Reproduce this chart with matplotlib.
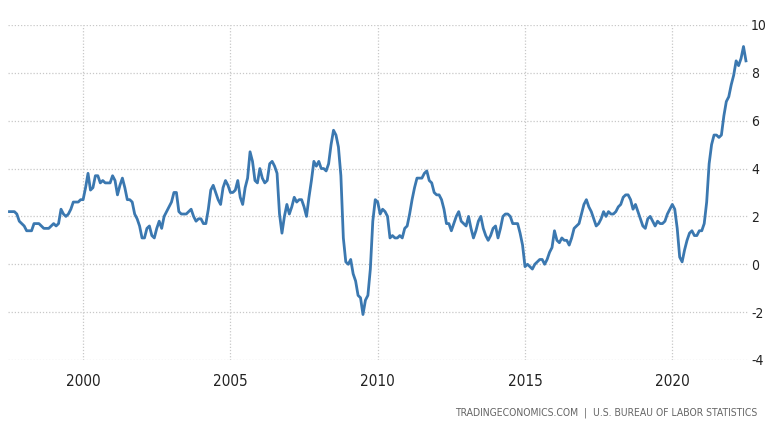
import matplotlib
matplotlib.use("Agg")
import matplotlib.pyplot as plt
from matplotlib import font_manager
import numpy as np

start_year = 1997
start_month = 7
cpi_yoy = [
    2.2, 2.2, 2.2, 2.1, 1.8, 1.7,
    1.6, 1.4, 1.4, 1.4, 1.7, 1.7, 1.7, 1.6, 1.5, 1.5, 1.5, 1.6,
    1.7, 1.6, 1.7, 2.3, 2.1, 2.0, 2.1, 2.3, 2.6, 2.6, 2.6, 2.7,
    2.7, 3.2, 3.8, 3.1, 3.2, 3.7, 3.7, 3.4, 3.5, 3.4, 3.4, 3.4,
    3.7, 3.5, 2.9, 3.3, 3.6, 3.2, 2.7, 2.7, 2.6, 2.1, 1.9, 1.6,
    1.1, 1.1, 1.5, 1.6, 1.2, 1.1, 1.5, 1.8, 1.5, 2.0, 2.2, 2.4,
    2.6, 3.0, 3.0, 2.2, 2.1, 2.1, 2.1, 2.2, 2.3, 2.0, 1.8, 1.9,
    1.9, 1.7, 1.7, 2.3, 3.1, 3.3, 3.0, 2.7, 2.5, 3.2, 3.5, 3.3,
    3.0, 3.0, 3.1, 3.5, 2.8, 2.5, 3.2, 3.6, 4.7, 4.3, 3.5, 3.4,
    4.0, 3.6, 3.4, 3.5, 4.2, 4.3, 4.1, 3.8, 2.1, 1.3, 2.0, 2.5,
    2.1, 2.4, 2.8, 2.6, 2.7, 2.7, 2.4, 2.0, 2.8, 3.5, 4.3, 4.1,
    4.3, 4.0, 4.0, 3.9, 4.2, 5.0, 5.6, 5.4, 4.9, 3.7, 1.1, 0.1,
    0.0, 0.2, -0.4, -0.7, -1.3, -1.4, -2.1, -1.5, -1.3, -0.2, 1.8, 2.7,
    2.6, 2.1, 2.3, 2.2, 2.0, 1.1, 1.2, 1.1, 1.1, 1.2, 1.1, 1.5,
    1.6, 2.1, 2.7, 3.2, 3.6, 3.6, 3.6, 3.8, 3.9, 3.5, 3.4, 3.0,
    2.9, 2.9, 2.7, 2.3, 1.7, 1.7, 1.4, 1.7, 2.0, 2.2, 1.8, 1.7,
    1.6, 2.0, 1.5, 1.1, 1.4, 1.8, 2.0, 1.5, 1.2, 1.0, 1.2, 1.5,
    1.6, 1.1, 1.5, 2.0, 2.1, 2.1, 2.0, 1.7, 1.7, 1.7, 1.3, 0.8,
    -0.1, 0.0, -0.1, -0.2, 0.0, 0.1, 0.2, 0.2, 0.0, 0.2, 0.5, 0.7,
    1.4, 1.0, 0.9, 1.1, 1.0, 1.0, 0.8, 1.1, 1.5, 1.6, 1.7, 2.1,
    2.5, 2.7, 2.4, 2.2, 1.9, 1.6, 1.7, 1.9, 2.2, 2.0, 2.2, 2.1,
    2.1, 2.2, 2.4, 2.5, 2.8, 2.9, 2.9, 2.7, 2.3, 2.5, 2.2, 1.9,
    1.6, 1.5, 1.9, 2.0, 1.8, 1.6, 1.8, 1.7, 1.7, 1.8, 2.1, 2.3,
    2.5, 2.3, 1.5, 0.3, 0.1, 0.6, 1.0, 1.3, 1.4, 1.2, 1.2, 1.4,
    1.4, 1.7, 2.6, 4.2, 5.0, 5.4, 5.4, 5.3, 5.4, 6.2, 6.8, 7.0,
    7.5, 7.9, 8.5, 8.3, 8.6, 9.1, 8.5,
]
x_ticks = [2000, 2005, 2010, 2015, 2020]
y_ticks = [-4, -2, 0, 2, 4, 6, 8, 10]
source_text = "TRADINGECONOMICS.COM  |  U.S. BUREAU OF LABOR STATISTICS"

t = start_year + (start_month - 1) / 12 + np.arange(len(cpi_yoy)) / 12

names = {f.name for f in font_manager.fontManager.ttflist}
fam = 'Liberation Sans Narrow' if 'Liberation Sans Narrow' in names else 'DejaVu Sans'
plt.rcParams['font.family'] = [fam, 'DejaVu Sans']
plt.rcParams['font.stretch'] = 'condensed'
plt.rcParams['axes.unicode_minus'] = False

fig = plt.figure(figsize=(7.68, 4.32), dpi=100)
ax = fig.add_axes([0.0104, 0.1667, 0.9655, 0.7755])
ax.plot(t, cpi_yoy, color='#3b78b0', lw=2.0, solid_joinstyle='round')
ax.set_xlim(1997.45, 2022.62)
ax.set_ylim(-4, 10)
ax.set_xticks(x_ticks)
ax.set_yticks(y_ticks)
ax.yaxis.tick_right()
ax.tick_params(axis='both', length=0, labelsize=11, colors='#222222')
ax.tick_params(axis='y', pad=1, labelsize=10)
ax.tick_params(axis='x', pad=10)
for s in ax.spines.values():
    s.set_visible(False)
ax.grid(True, color='#c8c8c8', linestyle=(0, (1, 1.5)), linewidth=0.9)
ax.set_axisbelow(True)
fig.text(0.986, 0.045, source_text, ha='right', va='center', fontsize=7.5, color='#666666')
fig.savefig("out.png", dpi=100)
